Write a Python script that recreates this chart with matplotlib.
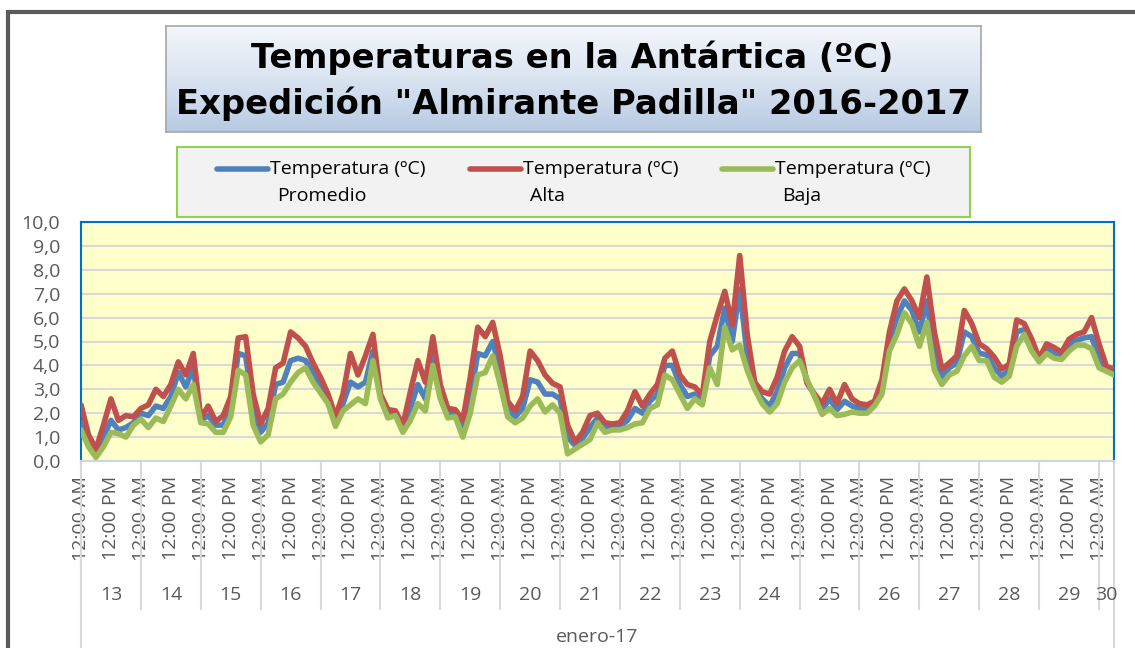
import numpy as np
import matplotlib
matplotlib.use('Agg')
import matplotlib.pyplot as plt
import matplotlib.transforms as mtransforms
from matplotlib.patches import Rectangle
from matplotlib.lines import Line2D
from matplotlib.colors import LinearSegmentedColormap

# readings every 3 hours starting 13 Jan 2017 00:00
start_day = 13
step_hours = 3

promedio = [1.6, 0.8, 0.3, 1.0, 1.7, 1.3, 1.4, 1.6,
            2.0, 1.9, 2.3, 2.2, 2.7, 3.7, 3.1, 3.9,
            1.7, 1.9, 1.5, 1.5, 2.2, 4.5, 4.4, 2.1,
            1.2, 1.6, 3.2, 3.3, 4.2, 4.3, 4.2, 3.7,
            3.1, 2.6, 1.6, 2.4, 3.3, 3.1, 3.3, 4.6,
            2.7, 2.0, 2.0, 1.35, 2.2, 3.2, 2.6, 4.5,
            2.9, 2.0, 2.0, 1.3, 2.6, 4.5, 4.4, 5.0,
            3.8, 2.2, 1.85, 2.2, 3.4, 3.3, 2.8, 2.8,
            2.6, 1.0, 0.65, 0.95, 1.4, 1.8, 1.4, 1.4,
            1.45, 1.7, 2.2, 2.0, 2.5, 2.8, 4.0, 4.0,
            3.2, 2.7, 2.8, 2.5, 4.4, 4.8, 6.4, 5.0,
            7.2, 4.4, 3.1, 2.6, 2.3, 2.9, 3.9, 4.5,
            4.5, 3.3, 2.75, 2.15, 2.6, 2.15, 2.5, 2.3,
            2.2, 2.2, 2.4, 3.1, 5.0, 6.0, 6.7, 6.3,
            5.4, 6.7, 4.5, 3.5, 3.9, 4.1, 5.4, 5.2,
            4.5, 4.45, 3.9, 3.55, 3.8, 5.4, 5.5, 4.85,
            4.2, 4.7, 4.5, 4.4, 4.85, 5.05, 5.15, 5.2,
            4.3, 3.85, 3.7]

alta = [2.35, 1.1, 0.5, 1.5, 2.6, 1.7, 1.9, 1.85,
        2.2, 2.35, 3.0, 2.7, 3.2, 4.15, 3.6, 4.5,
        1.8, 2.3, 1.65, 1.9, 2.7, 5.15, 5.2, 2.8,
        1.55, 2.2, 3.9, 4.1, 5.4, 5.15, 4.8, 4.1,
        3.5, 2.8, 1.85, 2.8, 4.5, 3.6, 4.4, 5.3,
        2.8, 2.15, 2.1, 1.5, 2.9, 4.2, 3.3, 5.2,
        3.2, 2.2, 2.15, 1.7, 3.5, 5.6, 5.2, 5.8,
        4.4, 2.5, 2.1, 2.7, 4.6, 4.2, 3.6, 3.25,
        3.1, 1.5, 0.8, 1.2, 1.9, 2.0, 1.6, 1.55,
        1.6, 2.1, 2.9, 2.3, 2.8, 3.2, 4.3, 4.6,
        3.6, 3.2, 3.1, 2.75, 5.0, 6.1, 7.1, 5.7,
        8.6, 5.3, 3.3, 2.9, 2.8, 3.5, 4.6, 5.2,
        4.8, 3.25, 2.8, 2.4, 3.0, 2.4, 3.2, 2.6,
        2.4, 2.35, 2.5, 3.4, 5.4, 6.7, 7.2, 6.7,
        6.0, 7.7, 5.4, 3.85, 4.1, 4.4, 6.3, 5.75,
        4.9, 4.7, 4.35, 3.85, 4.05, 5.9, 5.75, 5.1,
        4.3, 4.9, 4.75, 4.55, 5.1, 5.3, 5.4, 6.0,
        4.9, 3.95, 3.85]

baja = [1.3, 0.6, 0.15, 0.6, 1.2, 1.15, 1.0, 1.5,
        1.75, 1.4, 1.8, 1.65, 2.3, 3.0, 2.6, 3.2,
        1.6, 1.55, 1.2, 1.2, 1.85, 3.8, 3.6, 1.5,
        0.8, 1.1, 2.6, 2.8, 3.3, 3.7, 3.9, 3.3,
        2.85, 2.4, 1.45, 2.1, 2.35, 2.6, 2.4, 4.2,
        2.6, 1.8, 1.9, 1.2, 1.7, 2.4, 2.1, 4.0,
        2.6, 1.8, 1.85, 1.0, 2.0, 3.6, 3.7, 4.4,
        3.2, 1.85, 1.6, 1.8, 2.3, 2.6, 2.05, 2.35,
        2.0, 0.3, 0.5, 0.7, 0.9, 1.6, 1.2, 1.3,
        1.3, 1.4, 1.55, 1.6, 2.2, 2.35, 3.6, 3.4,
        2.8, 2.2, 2.6, 2.35, 3.9, 3.2, 5.6, 4.65,
        4.85, 3.8, 3.0, 2.4, 2.05, 2.4, 3.3, 3.9,
        4.2, 3.4, 2.7, 1.95, 2.2, 1.9, 1.95, 2.05,
        2.0, 2.0, 2.3, 2.8, 4.6, 5.3, 6.2, 5.75,
        4.8, 5.8, 3.8, 3.2, 3.6, 3.75, 4.4, 4.8,
        4.2, 4.2, 3.5, 3.3, 3.55, 4.8, 5.3, 4.6,
        4.15, 4.5, 4.3, 4.25, 4.6, 4.85, 4.85, 4.7,
        3.9, 3.75, 3.6]

series_first = ['Temperatura (ºC)', 'Temperatura (ºC)', 'Temperatura (ºC)']
series_second = ['Promedio', 'Alta', 'Baja']
series_colors = ['#4f81bd', '#c0504d', '#9bbb59']
day_numbers = list(range(13, 31))
time_labels = ['12:00 AM', '12:00 PM']
month_label = 'enero-17'
title_1 = 'Temperaturas en la Antártica (ºC)'
title_2 = 'Expedición "Almirante Padilla" 2016-2017'

plt.rcParams['font.family'] = ['Open Sans', 'DejaVu Sans']
grey_txt = '#595959'

W, H = 1135, 648
def fx(x):
    return x / W
def fy(y):
    return 1 - y / H

fig = plt.figure(figsize=(W / 100, H / 100), dpi=100)
fig.patch.set_facecolor('white')

# outer chart frame (runs off the picture at right and bottom)
fig.add_artist(Rectangle((fx(8), fy(H + 30)), fx(W + 30) - fx(8), fy(12) - fy(H + 30),
                         transform=fig.transFigure, fill=False, edgecolor='#5a5a5a', lw=3))

# title box with gradient
tax = fig.add_axes([fx(166), fy(132), fx(981) - fx(166), fy(26) - fy(132)])
grad = np.linspace(0, 1, 200).reshape(-1, 1)
cmap = LinearSegmentedColormap.from_list('tt', ['#f3f6fb', '#dae4f1', '#b7cae3'])
tax.imshow(grad, aspect='auto', cmap=cmap, extent=[0, 1, 0, 1], origin='upper')
tax.set_xticks([])
tax.set_yticks([])
for s in tax.spines.values():
    s.set_color('#a6a6a6')
    s.set_linewidth(1.2)
fig.text(fx(572), fy(58), title_1, ha='center', va='center', fontsize=24.3,
         fontweight='bold', family='DejaVu Sans', color='black')
fig.text(fx(573), fy(104), title_2, ha='center', va='center', fontsize=24.3,
         fontweight='bold', family='DejaVu Sans', color='black')

# legend box
fig.add_artist(Rectangle((fx(177), fy(217)), fx(970) - fx(177), fy(147) - fy(217),
                         transform=fig.transFigure, facecolor='#f2f2f2',
                         edgecolor='#92d050', lw=1.5))
leg_x = [217, 470, 722]
for i in range(3):
    x0 = leg_x[i]
    fig.add_artist(Line2D([fx(x0), fx(x0 + 51)], [fy(169), fy(169)], transform=fig.transFigure,
                          color=series_colors[i], lw=4, solid_capstyle='round'))
    fig.text(fx(x0 + 53), fy(169), series_first[i], ha='left', va='center',
             fontsize=14, color='black')
    fig.text(fx(x0 + 60), fy(196), series_second[i], ha='left', va='center',
             fontsize=14, color='black')

# plot area
ax = fig.add_axes([fx(81), fy(461), fx(1114) - fx(81), fy(222) - fy(461)])
ax.set_facecolor('#ffffcc')
t = start_day + np.arange(len(alta)) * step_hours / 24
for vals, col in zip([promedio, alta, baja], series_colors):
    ax.plot(t, vals, color=col, lw=4, solid_joinstyle='round', solid_capstyle='round', zorder=3)

ax.set_xlim(t[0], t[-1])
ax.set_ylim(0, 10)
yt = np.arange(0, 11)
ax.set_yticks(yt)
ax.set_yticklabels([f'{v:.1f}'.replace('.', ',') for v in yt])
ax.yaxis.grid(True, color='#d9d9d9', lw=1.5)
ax.set_axisbelow(True)
ax.tick_params(axis='y', length=0, pad=15, labelsize=14, labelcolor=grey_txt)

for side in ['left', 'top', 'right']:
    ax.spines[side].set_color('#0070c0')
    ax.spines[side].set_linewidth(1.5)
ax.spines['bottom'].set_color('#c9d6e6')
ax.spines['bottom'].set_linewidth(1.5)

half_days = np.arange(day_numbers[0], day_numbers[-1] + 0.01, 0.5)
ax.set_xticks(half_days)
ax.set_xticklabels([time_labels[i % 2] for i in range(len(half_days))])
ax.tick_params(axis='x', which='major', length=0, pad=11, labelsize=14,
               labelcolor=grey_txt, labelrotation=90)
ax.xaxis.remove_overlapping_locs = False
ax.set_xticks(day_numbers, minor=True)
ax.tick_params(axis='x', which='minor', length=107, width=1.5, color='#d9d9d9', direction='out')
for tk in ax.xaxis.get_minor_ticks():
    tk.tick1line.set_zorder(0.5)

# edge lines of the month group
for xe in [t[0], t[-1]]:
    ax.axvline(xe, ymin=-(H - 461) / 239, ymax=0, color='#d9d9d9', lw=1.5, clip_on=False,
               zorder=0.5)

trans = mtransforms.blended_transform_factory(ax.transData, ax.transAxes)
for d in day_numbers:
    lo = max(d, t[0])
    hi = min(d + 1, t[-1])
    ax.text((lo + hi) / 2, (461 - 595) / 239, str(d), transform=trans, ha='center',
            va='center', fontsize=14, color=grey_txt)
ax.text((t[0] + t[-1]) / 2, (461 - 637) / 239, month_label, transform=trans, ha='center',
        va='center', fontsize=14, color=grey_txt)

fig.savefig('out.png', dpi=100)
